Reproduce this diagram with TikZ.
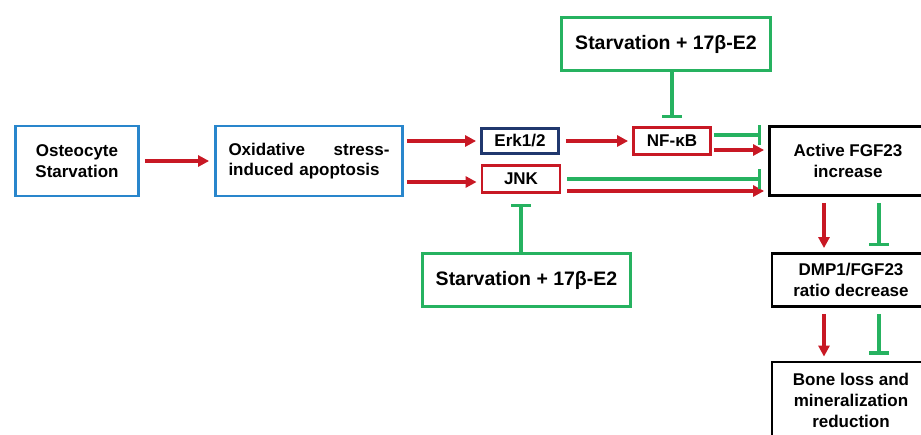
\documentclass[tikz,border=0pt]{standalone}
\usepackage{fontspec}
\setmainfont{Liberation Sans}
\usetikzlibrary{arrows.meta}

\definecolor{boxblue}{RGB}{41,134,204}
\definecolor{boxnavy}{RGB}{32,56,110}
\definecolor{actred}{RGB}{200,24,36}
\definecolor{inhgreen}{RGB}{38,178,96}

\tikzset{
  box/.style={draw, line width=2.8pt, align=center, inner sep=0pt,
    font=\fontsize{17}{20.5}\selectfont\bfseries},
  bigbox/.style={box, draw=inhgreen, font=\fontsize{19.5}{23}\selectfont\bfseries},
  act/.style={actred, line width=3.2pt, -{Triangle[length=11pt,width=11pt]}},
  inh/.style={inhgreen, line width=3.2pt, -{Bar[width=20pt]}},
}

\begin{document}
\begin{tikzpicture}[x=1pt,y=-1pt]
  \useasboundingbox (0,0) rectangle (921,434);
  \clip (0,0) rectangle (921,434);

  % left chain
  \node[box, draw=boxblue, minimum width=123pt, minimum height=70pt] (osteo) at (77,161) {Osteocyte\\Starvation};
  \node[box, draw=boxblue, minimum width=187pt, minimum height=70pt, text width=161pt, align=left] (oxid) at (309,161) {Oxidative\hfill stress-\\induced apoptosis};

  % kinases
  \node[box, draw=boxnavy, minimum width=77pt, minimum height=25pt] (erk) at (520,141) {Erk1/2};
  \node[box, draw=actred, minimum width=78pt, minimum height=27pt] (jnk) at (521,179) {JNK};
  \node[box, draw=actred, minimum width=77pt, minimum height=27pt] (nfkb) at (672,141) {NF-κB};

  % treatment
  \node[bigbox, minimum width=209pt, minimum height=53pt] (topstar) at (666,44) {Starvation + 17β-E2};
  \node[bigbox, minimum width=208pt, minimum height=53pt] (botstar) at (526.5,280) {Starvation + 17β-E2};

  % right column
  \node[box, draw=black, minimum width=157pt, minimum height=69pt] (fgf) at (848,161) {Active FGF23\\increase};
  \node[box, draw=black, minimum width=158pt, minimum height=53pt] (dmp) at (851,280) {DMP1/FGF23\\ratio decrease};
  \node[box, draw=black, minimum width=158pt, minimum height=76pt, font=\fontsize{17}{21}\selectfont\bfseries] (bone) at (851,400) {Bone loss and\\mineralization\\reduction};

  % activations
  \draw[act, shorten <=5pt, shorten >=5pt] (osteo) -- (oxid);
  \draw[act, shorten <=3pt, shorten >=4pt] (oxid.east |- erk) -- (erk.west);
  \draw[act, shorten <=3pt, shorten >=4pt] ([yshift=-3pt]oxid.east |- jnk) -- ([yshift=-3pt]jnk.west);
  \draw[act, shorten <=6pt, shorten >=4pt] (erk) -- (nfkb);
  \draw[act, shorten <=2pt, shorten >=4pt] ([yshift=-9pt]nfkb.east) -- ([yshift=-9pt]nfkb.east -| fgf.west);
  \draw[act, shorten <=6pt, shorten >=4pt] ([yshift=-12pt]jnk.east) -- ([yshift=-12pt]jnk.east -| fgf.west);

  % inhibitions
  \draw[inh, shorten >=8pt] (topstar.south -| nfkb) -- (nfkb.north);
  \draw[inh, shorten >=10pt] (botstar.north -| jnk) -- (jnk.south);
  \draw[inh, shorten <=2pt, shorten >=7pt] ([yshift=6pt]nfkb.east) -- ([yshift=6pt]nfkb.east -| fgf.west);
  \draw[inh, shorten <=6pt, shorten >=7pt] (jnk.east) -- (jnk.east -| fgf.west);

  % downstream
  \foreach \a/\b in {fgf/dmp, dmp/bone} {
    \draw[act, shorten <=6pt, shorten >=4pt] ([xshift=-27pt]\b.north |- \a.south) -- ([xshift=-27pt]\b.north);
    \draw[inh, shorten <=6pt, shorten >=6pt] ([xshift=28pt]\b.north |- \a.south) -- ([xshift=28pt]\b.north);
  }
\end{tikzpicture}
\end{document}
